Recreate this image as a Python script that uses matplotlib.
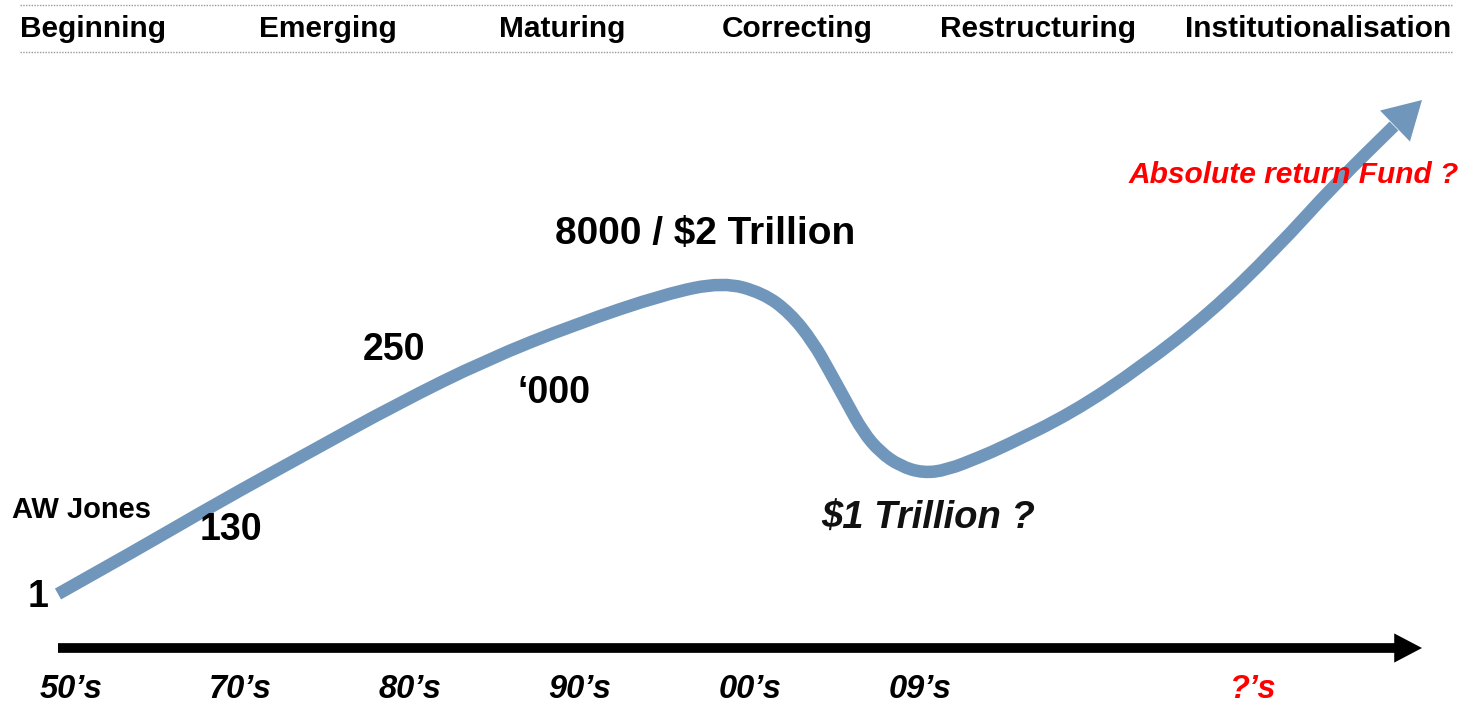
import matplotlib.pyplot as plt
from matplotlib.patches import PathPatch
from matplotlib.path import Path

plt.rcParams["font.family"] = ["Liberation Sans", "DejaVu Sans"]

# stages across the top
stages = ["Beginning", "Emerging", "Maturing", "Correcting", "Restructuring", "Institutionalisation"]
stage_x = [93, 328, 562, 797, 1038, 1318]

# decades along the time arrow
decades = ["50\u2019s", "70\u2019s", "80\u2019s", "90\u2019s", "00\u2019s", "09\u2019s", "?\u2019s"]
decade_x = [71, 240, 410, 580, 750, 920, 1252]
decade_col = ["black"] * 6 + ["red"]

# growth curve (pixel space, y down)
curve_x = [58, 140, 219, 308, 397, 486, 576, 665, 723, 763, 790, 813, 830, 847, 863,
           880, 900, 923, 947, 980, 1003, 1072, 1141, 1210, 1275, 1337, 1394]
curve_y = [594, 548, 502, 453, 404, 360, 324, 294, 282, 293, 313, 342, 372, 403, 432,
           452, 466, 473, 470, 457, 447, 413, 367, 313, 250, 182, 126]
tip = (1422, 100)

# labels on the chart: text, x, y, size, style, colour
notes = [
    ("8000 / $2 Trillion", 705, 234, 28, "normal", "black"),
    ("250", 394, 350, 27, "normal", "black"),
    ("\u2018000", 554, 393, 27, "normal", "black"),
    ("130", 231, 530, 27, "normal", "black"),
    ("1", 38, 597, 27, "normal", "black"),
    ("AW Jones", 81, 510, 21, "normal", "black"),
    ("$1 Trillion ?", 928, 519, 27.5, "italic", "#111111"),
    ("Absolute return Fund ?", 1294, 175, 21.5, "italic", "red"),
]

fig = plt.figure(figsize=(14.64, 7.05), dpi=100)
ax = fig.add_axes([0, 0, 1, 1])
ax.set_xlim(0, 1464)
ax.set_ylim(705, 0)
ax.axis("off")

blue = "#7097BB"

# header with dotted rules
for yy in [5, 52]:
    ax.plot([20, 1452], [yy, yy], color="#999999", lw=1, ls=(0, (1, 1)))
for s, x in zip(stages, stage_x):
    ax.text(x, 29, s, ha="center", va="center", fontsize=21.5, fontweight="bold")

# smooth curve: read points used as quadratic control points
pts = list(zip(curve_x, curve_y))
verts = [pts[0]]
codes = [Path.MOVETO]
for i in range(1, len(pts) - 1):
    mid = ((pts[i][0] + pts[i + 1][0]) / 2, (pts[i][1] + pts[i + 1][1]) / 2)
    verts += [pts[i], mid]
    codes += [Path.CURVE3, Path.CURVE3]
verts.append(pts[-1])
codes.append(Path.LINETO)
ax.add_patch(PathPatch(Path(verts, codes), fill=False, edgecolor=blue, lw=9,
                       capstyle="butt", joinstyle="round"))

# arrow head on the curve
ax.annotate("", xy=tip, xytext=pts[-2],
            arrowprops=dict(arrowstyle="simple,head_length=27,head_width=31,tail_width=0.1",
                            mutation_scale=1, lw=0, color=blue,
                            shrinkA=0, shrinkB=0))

# time arrow
ax.annotate("", xy=(1422, 648), xytext=(58, 648),
            arrowprops=dict(arrowstyle="simple,head_length=20,head_width=21,tail_width=7",
                            mutation_scale=1, lw=0, color="black",
                            shrinkA=0, shrinkB=0))

for d, x, c in zip(decades, decade_x, decade_col):
    ax.text(x, 690, d, ha="center", va="center", fontsize=23.5, fontweight="bold",
            fontstyle="italic", color=c)

for t, x, y, fs, st, c in notes:
    ax.text(x, y, t, ha="center", va="center", fontsize=fs, fontweight="bold",
            fontstyle=st, color=c)

plt.savefig("out.png", dpi=100)
